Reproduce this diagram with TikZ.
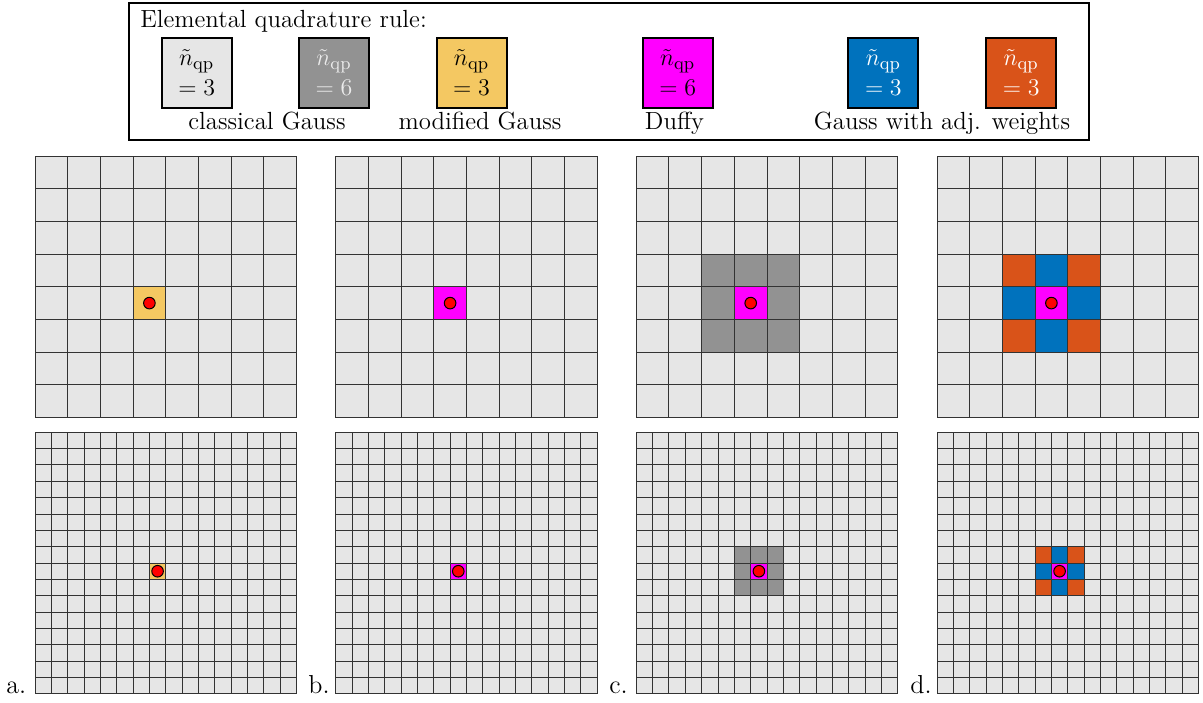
\documentclass[tikz,border=0pt]{standalone}
\usepackage{amsmath}
\definecolor{lg}{HTML}{E6E6E6}
\definecolor{dg}{HTML}{929292}
\definecolor{yl}{HTML}{F4C862}
\definecolor{mg}{HTML}{FF00FF}
\definecolor{bl}{HTML}{0072BD}
\definecolor{og}{HTML}{D95319}
\tikzset{
  gline/.style={line width=0.5pt, draw=black!80},
  legsq/.style={draw=black, line width=1pt, minimum size=35pt, inner sep=0pt, align=center},
  reddot/.style={circle, fill=red, draw=black, line width=0.5pt, minimum size=5.8pt, inner sep=0pt},
  panlab/.style={anchor=base west, inner sep=0pt, font=\fontsize{13}{15}\selectfont},
  leglab/.style={anchor=base, inner sep=0pt}
}
\newcommand\gpanel[5]{%
  \pgfmathsetmacro\cs{130.75/#3}%
  \pgfmathtruncatemacro\cc{#3/2-1}%
  \pgfmathtruncatemacro\rr{#3/2}%
  \begin{scope}[shift={(#1,#2)}, x=\cs pt, y=-\cs pt]
    \fill[lg] (0,0) rectangle (#3,#3);
    \ifnum#4=1 \fill[yl] (\cc,\rr) rectangle ++(1,1); \fi
    \ifnum#4=3 \fill[dg] (\cc-1,\rr-1) rectangle ++(3,3); \fi
    \ifnum#4=4
      \fill[og] (\cc-1,\rr-1) rectangle ++(3,3);
      \fill[bl] (\cc,\rr-1) rectangle ++(1,3);
      \fill[bl] (\cc-1,\rr) rectangle ++(3,1);
    \fi
    \ifnum#4>1 \fill[mg] (\cc,\rr) rectangle ++(1,1); \fi
    \foreach \i in {0,...,#3} {
      \draw[gline] (\i,0) -- (\i,#3);
      \draw[gline] (0,\i) -- (#3,\i);
    }
    \node[reddot] (#5) at (\cc+0.5,\rr+0.5) {};
  \end{scope}%
}
\begin{document}
\begin{tikzpicture}[x=0.5pt, y=-0.5pt, font=\fontsize{12.4}{14.8}\selectfont]
\useasboundingbox (0,0) rectangle (1203,702);
% legend
\draw[line width=1pt] (128.5,3) rectangle (1088.5,140);
\node[anchor=base west, inner sep=0pt] (title) at (140,27) {Elemental quadrature rule:};
\node[legsq, fill=lg] (s1) at (196.7,72.5) {$\tilde{n}_{\mathrm{qp}}$\\$=3$};
\node[legsq, fill=dg, text=black!8] (s2) at (334,72.5) {$\tilde{n}_{\mathrm{qp}}$\\$=6$};
\node[legsq, fill=yl] (s3) at (471.5,72.5) {$\tilde{n}_{\mathrm{qp}}$\\$=3$};
\node[legsq, fill=mg] (s4) at (677.7,72.5) {$\tilde{n}_{\mathrm{qp}}$\\$=6$};
\node[legsq, fill=bl, text=white] (s5) at (883.4,72.5) {$\tilde{n}_{\mathrm{qp}}$\\$=3$};
\node[legsq, fill=og, text=white] (s6) at (1021.2,72.5) {$\tilde{n}_{\mathrm{qp}}$\\$=3$};
\node[leglab] (l1) at (267,129) {classical Gauss};
\node[leglab] (l2) at (480,129) {modified Gauss};
\node[leglab] (l3) at (674.5,129) {Duffy};
\node[leglab] (l4) at (942,129) {Gauss with adj. weights};
% panels
\gpanel{35}{156}{8}{1}{pa1}
\gpanel{335.7}{156}{8}{2}{pb1}
\gpanel{636.3}{156}{8}{3}{pc1}
\gpanel{937}{156}{8}{4}{pd1}
\gpanel{35}{432.3}{16}{1}{pa2}
\gpanel{335.7}{432.3}{16}{2}{pb2}
\gpanel{636.3}{432.3}{16}{3}{pc2}
\gpanel{937}{432.3}{16}{4}{pd2}
\node[panlab] (la) at (6,693) {a.};
\node[panlab] (lb) at (308,693) {b.};
\node[panlab] (lc) at (609,693) {c.};
\node[panlab] (ld) at (910,693) {d.};
\end{tikzpicture}
\end{document}
